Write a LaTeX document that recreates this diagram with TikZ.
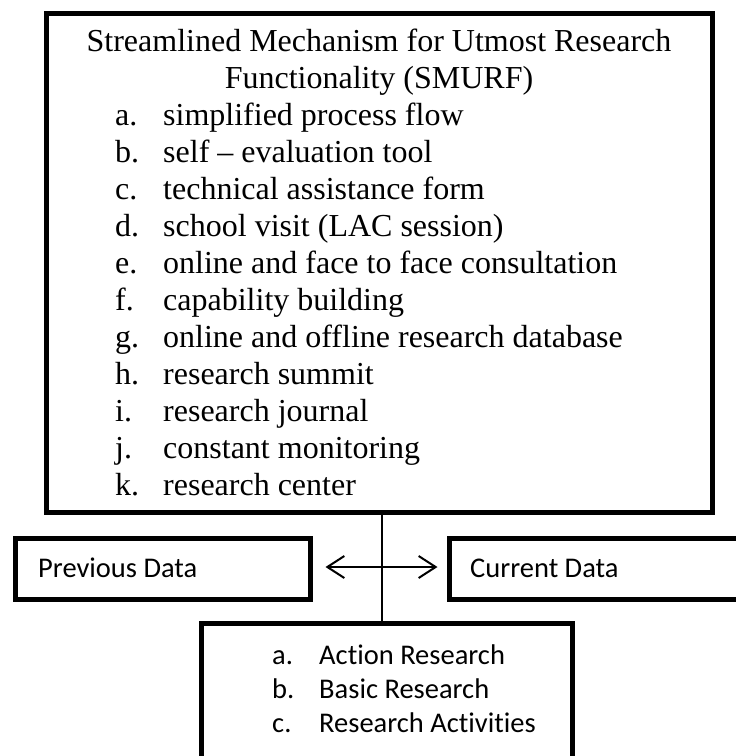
\documentclass[tikz,border=0pt]{standalone}
\usepackage{fontspec}
\setmainfont{Liberation Serif}[Ligatures=TeX]
\newfontfamily\calib{Carlito}[Ligatures=NoCommon]
\usetikzlibrary{arrows.meta}
\tikzset{
  thickbox/.style={draw=black, line width=5pt, rectangle, inner sep=0pt},
  serifline/.style={font=\rmfamily\fontsize{32}{37}\selectfont, inner sep=0pt, anchor=base west},
  sansline/.style={font=\calib\fontsize{28.5}{34}\selectfont, inner sep=0pt, anchor=base west},
  thinline/.style={draw=black, line width=2pt},
}
\begin{document}
\begin{tikzpicture}[x=1pt,y=-1pt]
\useasboundingbox (0,0) rectangle (736,756);
% boxes
\node[thickbox, minimum width=666pt, minimum height=499pt] (top) at (379,262.5) {};
\node[thickbox, minimum width=295pt, minimum height=61pt] (prev) at (162.5,568.5) {};
\node[thickbox, minimum width=296pt, minimum height=61pt] (cur) at (597,568.5) {};
\node[thickbox, minimum width=371pt, minimum height=150pt] (bot) at (386.5,698) {};
% title
\node[font=\rmfamily\fontsize{32}{37}\selectfont, inner sep=0pt, anchor=base] (t1) at (379,51) {Streamlined Mechanism for Utmost Research};
\node[font=\rmfamily\fontsize{32}{37}\selectfont, inner sep=0pt, anchor=base] (t2) at (379,88) {Functionality (SMURF)};
% items
\node[serifline] (la) at (115,125) {a.};
\node[serifline] (ta) at (163,125) {simplified process flow};
\node[serifline] (lb) at (115,162) {b.};
\node[serifline] (tb) at (163,162) {self – evaluation tool};
\node[serifline] (lc) at (115,199) {c.};
\node[serifline] (tc) at (163,199) {technical assistance form};
\node[serifline] (ld) at (115,236) {d.};
\node[serifline] (td) at (163,236) {school visit (LAC session)};
\node[serifline] (le) at (115,273) {e.};
\node[serifline] (te) at (163,273) {online and face to face consultation};
\node[serifline] (lf) at (115,310) {f.};
\node[serifline] (tf) at (163,310) {capability building};
\node[serifline] (lg) at (115,347) {g.};
\node[serifline] (tg) at (163,347) {online and offline research database};
\node[serifline] (lh) at (115,384) {h.};
\node[serifline] (th) at (163,384) {research summit};
\node[serifline] (li) at (115,421) {i.};
\node[serifline] (ti) at (163,421) {research journal};
\node[serifline] (lj) at (115,458) {j.};
\node[serifline] (tj) at (163,458) {constant monitoring};
\node[serifline] (lk) at (115,495) {k.};
\node[serifline] (tk) at (163,495) {research center};
% side texts
\node[sansline] (prevt) at (38,577) {Previous Data};
\node[sansline] (curt) at (470,577) {Current Data};
% bottom items
\node[sansline] (ba) at (272,664) {a.};
\node[sansline] (bat) at (319,664) {Action Research};
\node[sansline] (bb) at (272,698) {b.};
\node[sansline] (bbt) at (319,698) {Basic Research};
\node[sansline] (bc) at (272,732) {c.};
\node[sansline] (bct) at (319,732) {Research Activities};
% connectors
\coordinate (vx) at (382,0);
\draw[thinline] (top.south -| vx) -- (bot.north -| vx);
\draw[thinline, {Straight Barb[length=17pt,width=22pt,line width=2pt]}-{Straight Barb[length=17pt,width=22pt,line width=2pt]}, shorten <=13pt, shorten >=9pt] ([yshift=1.5pt]prev.east) -- ([yshift=1.5pt]prev.east -| cur.west);
\end{tikzpicture}
\end{document}
